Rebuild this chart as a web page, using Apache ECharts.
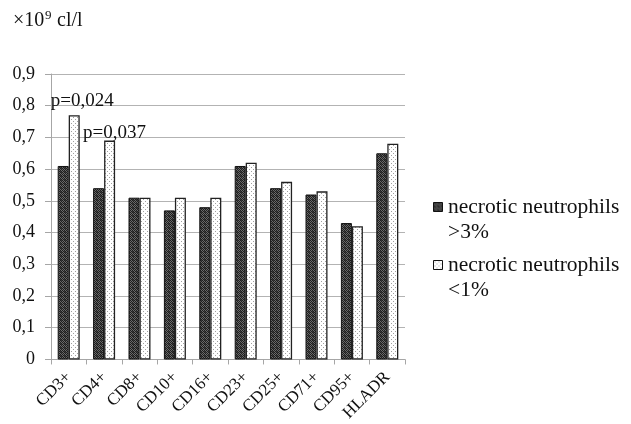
<!DOCTYPE html>
<html><head><meta charset="utf-8">
<script src="https://cdn.jsdelivr.net/npm/echarts@6/dist/echarts.min.js"></script>
<style>html,body{margin:0;padding:0;background:#fff}#c{width:631px;height:424px}</style>
</head><body><div id="c"></div>
<script>
var categories = ['CD3+','CD4+','CD8+','CD10+','CD16+','CD23+','CD25+','CD71+','CD95+','HLADR'];
var seriesNames = ['necrotic neutrophils\n>3%','necrotic neutrophils\n<1%'];
var seriesHigh = [0.61,0.54,0.51,0.47,0.48,0.61,0.54,0.52,0.43,0.65];
var seriesLow  = [0.77,0.69,0.51,0.51,0.51,0.62,0.56,0.53,0.42,0.68];
var yTicks = [0,0.1,0.2,0.3,0.4,0.5,0.6,0.7,0.8,0.9];
var pLabels = [{cat:0, s:1, text:'p=0,024'},{cat:1, s:1, text:'p=0,037'}];

function makeDark(){
  var c=document.createElement('canvas');c.width=4;c.height=4;var x=c.getContext('2d');
  x.fillStyle='#6a6a6a';x.fillRect(0,0,4,4);
  x.fillStyle='#1e1e1e';
  x.fillRect(0,0,1,1);x.fillRect(2,0,1,1);x.fillRect(1,1,1,1);x.fillRect(3,1,1,1);
  x.fillRect(0,2,1,1);x.fillRect(2,2,1,1);x.fillRect(1,3,1,1);x.fillRect(3,3,1,1);
  x.fillStyle='#3a3a3a';x.fillRect(1,0,1,1);x.fillRect(0,3,1,1);
  return c;
}
function makeLight(){
  var c=document.createElement('canvas');c.width=4;c.height=4;var x=c.getContext('2d');
  x.fillStyle='#fff';x.fillRect(0,0,4,4);
  x.fillStyle='#a0a0a0';x.fillRect(1,1,1,1);x.fillRect(3,3,1,1);
  return c;
}
var darkFill={image:makeDark(),repeat:'repeat'};
var lightFill={image:makeLight(),repeat:'repeat'};
var font='"Liberation Serif","Times New Roman",serif';
var chart=echarts.init(document.getElementById('c'),null,{renderer:'canvas'});

var lowData = seriesLow.map(function(v,i){
  var lab=null;
  pLabels.forEach(function(p){ if(p.cat===i && p.s===1) lab=p.text; });
  if(lab){
    return {value:v,label:{show:true,formatter:lab,position:'top',fontFamily:font,fontSize:19,color:'#111',
      offset: i===0 ? [8,0] : [5,7]}};
  }
  return v;
});

chart.setOption({
  animation:false,
  grid:{left:51,right:226,top:74,bottom:64},
  xAxis:{type:'category',data:categories,
    axisLine:{lineStyle:{color:'#a6a6a6'}},
    axisTick:{show:true,length:5,lineStyle:{color:'#a6a6a6'}},
    axisLabel:{rotate:45,fontFamily:font,fontSize:17,color:'#111',margin:15,interval:0}},
  yAxis:{type:'value',min:0,max:0.9,interval:0.1,
    axisLine:{show:true,lineStyle:{color:'#a6a6a6'}},
    axisTick:{show:true,length:6,lineStyle:{color:'#a6a6a6'}},
    splitLine:{lineStyle:{color:'#b3b3b3'}},
    axisLabel:{fontFamily:font,fontSize:18,color:'#111',margin:16,
      formatter:function(v){return v===0?'0':v.toFixed(1).replace('.',',');}}},
  series:[
    {name:seriesNames[0],type:'bar',data:seriesHigh,barWidth:11,barGap:'0%',
      itemStyle:{color:darkFill,borderColor:'#111',borderWidth:1}},
    {name:seriesNames[1],type:'bar',data:lowData,barWidth:11,
      itemStyle:{color:lightFill,borderColor:'#222',borderWidth:1.3}}
  ],
  graphic:[
    {type:'text',left:13,top:11,style:{text:'×10',font:'20px '+font,fill:'#111'}},
    {type:'text',left:45,top:9,style:{text:'9',font:'13px '+font,fill:'#111'}},
    {type:'text',left:57,top:11,style:{text:'cl/l',font:'20px '+font,fill:'#111'}},
    {type:'rect',left:433,top:202,shape:{width:9,height:9},style:{fill:darkFill,stroke:'#111',lineWidth:1}},
    {type:'text',left:448,top:195,style:{text:seriesNames[0],font:'21.5px '+font,fill:'#111',lineHeight:25}},
    {type:'rect',left:433,top:260,shape:{width:9,height:9},style:{fill:lightFill,stroke:'#111',lineWidth:1}},
    {type:'text',left:448,top:253,style:{text:seriesNames[1],font:'21.5px '+font,fill:'#111',lineHeight:25}}
  ]
});
</script></body></html>
